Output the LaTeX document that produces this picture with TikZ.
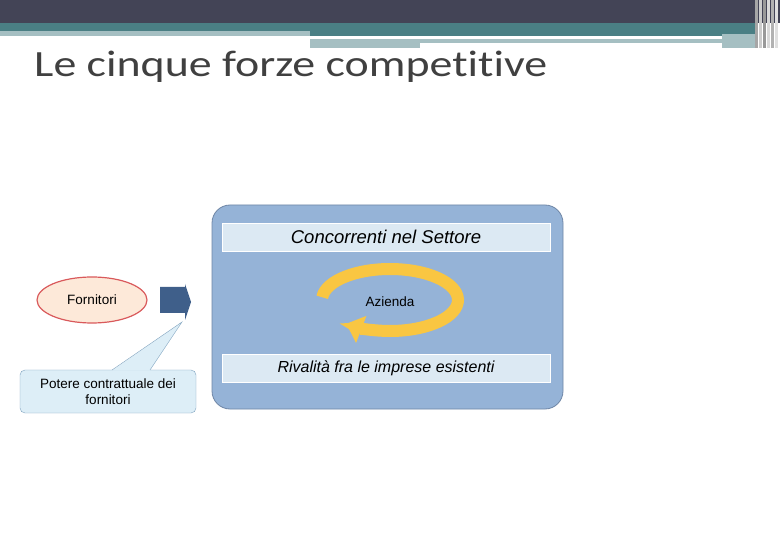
\documentclass[tikz,border=0pt]{standalone}
\usepackage{fontspec}
\setmainfont{Liberation Sans}
\newfontfamily\titlefont[Ligatures=NoCommon]{Carlito}
\usetikzlibrary{arrows.meta,shapes.geometric}
\definecolor{hdark}{HTML}{434456}
\definecolor{hteal}{HTML}{4A7F84}
\definecolor{hlight}{HTML}{A5BFC2}
\definecolor{boxblue}{HTML}{95B3D7}
\definecolor{boxedge}{HTML}{6F86A6}
\definecolor{barfill}{HTML}{DCE9F3}
\definecolor{ringc}{HTML}{F9C642}
\definecolor{peach}{HTML}{FDE9D9}
\definecolor{redge}{HTML}{D9595B}
\definecolor{arrowblue}{HTML}{3F5F8A}
\definecolor{callfill}{HTML}{DDEEF7}
\definecolor{calledge}{HTML}{7FA2BE}
\tikzset{
  bar/.style={fill=barfill, draw=white, line width=0.6pt, minimum width=328pt, minimum height=28pt, inner sep=0pt, font=\fontsize{18.5}{20}\selectfont\itshape},
}
\begin{document}
\begin{tikzpicture}[x=1pt,y=-1pt]
\useasboundingbox (0,0) rectangle (780,540);
% header
\fill[hdark] (0,0) rectangle (780,23);
\fill[hteal] (0,23) rectangle (755,31);
\fill[hlight] (0,31) rectangle (310,36);
\fill[hteal] (310,31) rectangle (755,36);
\fill[hlight] (310,39) rectangle (722,43);
\fill[hlight] (310,43) rectangle (420,48);
\fill[hlight] (722,34) rectangle (755,48);
\foreach \x/\c in {755/gray!70,759/gray!40,763/gray!80,767/gray!30,771/gray!60,775/gray!25}
  \fill[\c] (\x,0) rectangle ++(3,48);
\node[anchor=base west, inner sep=0pt, text=black!75, xscale=1.24, font=\titlefont\fontsize{37}{40}\selectfont] (title) at (34,77) {Le cinque forze competitive};
% main box
\node[draw=boxedge, fill=boxblue, rounded corners=18pt, minimum width=351pt, minimum height=204pt, line width=0.8pt] (main) at (387.5,307) {};
\node[bar] (top) at (386,237) {Concorrenti nel Settore};
\node[bar, font=\fontsize{16}{18}\selectfont\itshape] (bot) at (386,368.5) {Rivalità fra le imprese esistenti};
% ring
\draw[ringc, line width=12pt, -{Triangle[length=16pt,width=28pt]}] (390,300) ++(185:68 and 31) arc[start angle=185, end angle=490, x radius=68, y radius=31];
\node[font=\fontsize{13.5}{15}\selectfont] (az) at (390,302) {Azienda};
% fornitori
\node[ellipse, draw=redge, fill=peach, line width=1.2pt, minimum width=110pt, minimum height=46pt, font=\fontsize{13.5}{15}\selectfont] (forn) at (92,300) {Fornitori};
% arrow
\fill[arrowblue] (160,287) -- (185,287) -- (185,284) -- (191,302) -- (185,320) -- (185,313) -- (160,313) -- cycle;
\coordinate (tip) at (182,322);
% callout
\node[draw=calledge, fill=callfill, rounded corners=5pt, minimum width=176pt, minimum height=43pt, align=center, inner sep=2pt, font=\fontsize{13.5}{15.5}\selectfont] (call) at (108,391.5) {Potere contrattuale dei\\fornitori};
\fill[callfill] (112,370.6) -- (tip) -- (150,370.6) -- cycle;
\draw[calledge] (112,370) -- (tip) -- (150,370);
\end{tikzpicture}
\end{document}
